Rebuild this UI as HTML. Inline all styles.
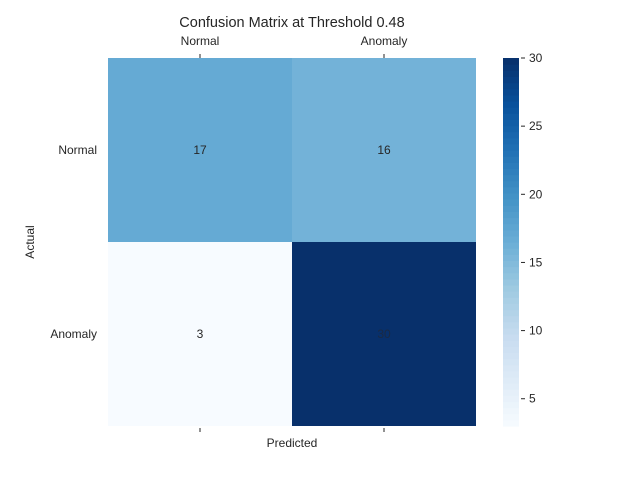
<!DOCTYPE html>
<html><head><meta charset="utf-8"><style>
body{margin:0;background:#fff;font-family:"Liberation Sans",sans-serif;}
svg text{font-family:"Liberation Sans",sans-serif;fill:#262626;}
</style></head><body>
<svg width="640" height="480" id="c">
<text x="292" y="27" font-size="14.5" text-anchor="middle">Confusion Matrix at Threshold 0.48</text>
<text x="292" y="447" font-size="12" text-anchor="middle">Predicted</text>
<text x="34" y="242" font-size="12" text-anchor="middle" transform="rotate(-90 34 242)">Actual</text>
<defs><linearGradient id="g" x1="0" y1="1" x2="0" y2="0" id2=""></linearGradient></defs>
</svg>
<script>
const rowLabels=["Normal","Anomaly"];
const colLabels=["Normal","Anomaly"];
const row0=[17,16];
const row1=[3,30];
const cbTicks=[5,10,15,20,25,30];
const vmin=3, vmax=30;
const svg=document.getElementById('c');
const NS="http://www.w3.org/2000/svg";
const stops=[[247,251,255],[222,235,247],[198,219,239],[158,202,225],[107,174,214],[66,146,198],[33,113,181],[8,81,156],[8,48,107]];
function color(v){let t=(v-vmin)/(vmax-vmin);t=Math.max(0,Math.min(1,t))*(stops.length-1);const i=Math.min(Math.floor(t),stops.length-2),f=t-i;const c=stops[i].map((a,k)=>Math.round(a+(stops[i+1][k]-a)*f));return `rgb(${c})`;}
function el(tag,attrs){const e=document.createElementNS(NS,tag);for(const k in attrs)e.setAttribute(k,attrs[k]);svg.appendChild(e);return e;}
const X0=108,Y0=58,W=368,H=368;
const cw=W/colLabels.length, ch=H/rowLabels.length;
const xs=i=>X0+i*cw, ys=j=>Y0+j*ch;
[row0,row1].forEach((row,j)=>{row.forEach((v,i)=>{
 const r=el('rect',{x:xs(i),y:ys(j),width:cw,height:ch,fill:color(v)});
 
 
 const t=el('text',{x:xs(i)+cw/2,y:ys(j)+ch/2+4,'font-size':12,'text-anchor':'middle'});
 t.textContent=v;
 if((v-vmin)/(vmax-vmin)>0.6)t.setAttribute('style','fill:#1a2a44');
 
 
});});
colLabels.forEach((l,i)=>{const x=xs(i)+cw/2;
 el('line',{x1:x,x2:x,y1:Y0-4,y2:Y0,stroke:'#262626'});
 el('line',{x1:x,x2:x,y1:Y0+H+2,y2:Y0+H+6,stroke:'#262626'});
 const t=el('text',{x:x,y:45,'font-size':12,'text-anchor':'middle'});t.textContent=l;
 
 });
rowLabels.forEach((l,j)=>{const t=el('text',{x:97,y:ys(j)+ch/2+4,'font-size':12,'text-anchor':'end'});t.textContent=l;
 
 });
// colorbar
const CX=503,CW=16,CY0=58,CH=368;
const cy=v=>CY0+CH-(v-vmin)/(vmax-vmin)*CH;
const N=60;
for(let k=0;k<N;k++){const v=vmin+(vmax-vmin)*(k+0.5)/N;
 const r=el('rect',{x:CX,y:CY0+CH-(k+1)*CH/N,width:CW,height:CH/N+0.6,fill:color(v)});
 
 }
cbTicks.forEach(v=>{const y=cy(v);
 el('line',{x1:CX+CW+2,x2:CX+CW+6,y1:y,y2:y,stroke:'#262626'});
 const t=el('text',{x:CX+CW+10,y:y+4,'font-size':12});t.textContent=v;
 
 });
</script>
</body></html>
